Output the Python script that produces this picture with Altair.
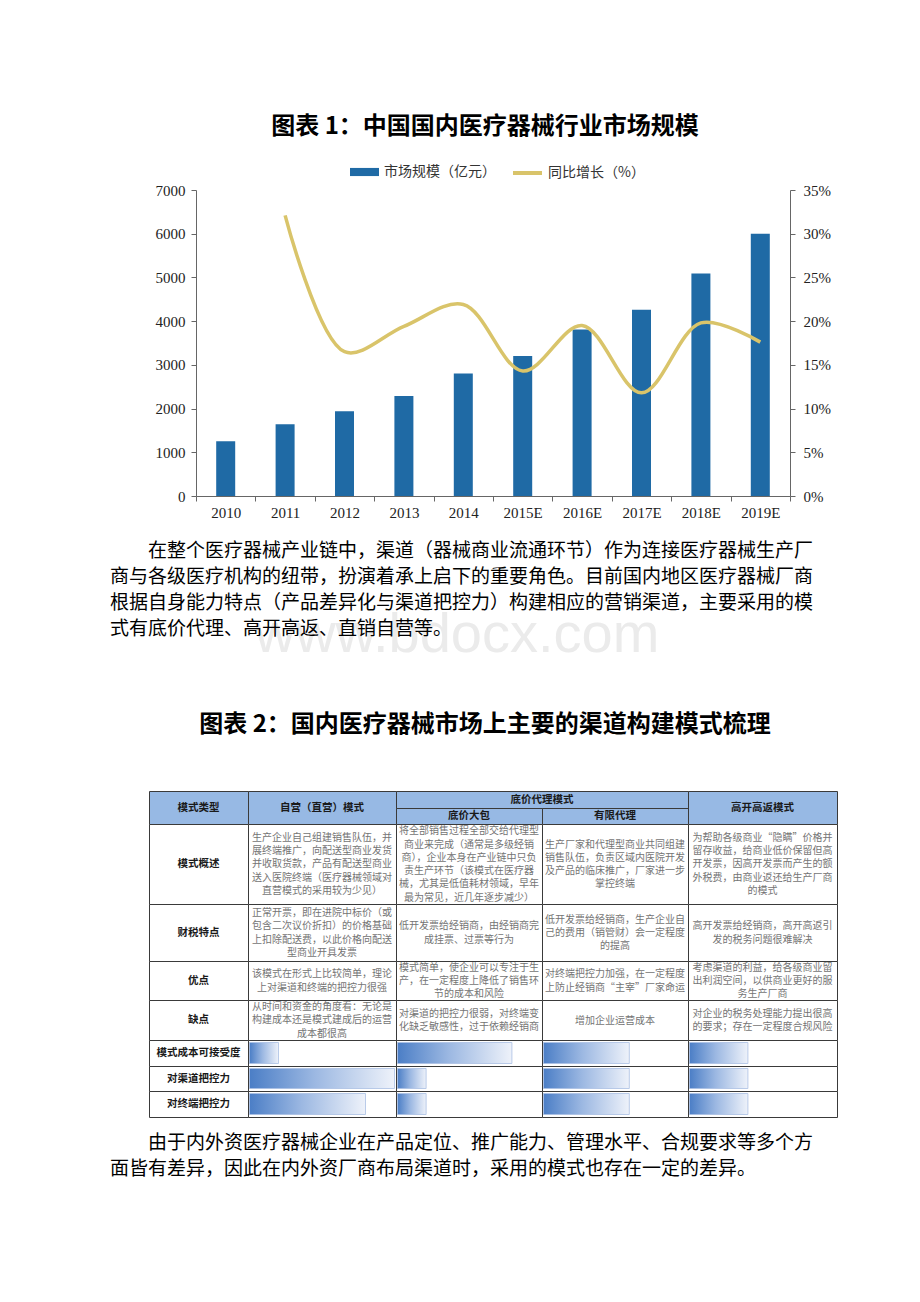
import altair as alt
import pandas as pd

# ---------------- data ----------------
years = ["2010", "2011", "2012", "2013", "2014", "2015E", "2016E", "2017E", "2018E", "2019E"]
market_size = [1255, 1640, 1940, 2290, 2800, 3200, 3810, 4260, 5090, 6000]
growth_pct = [None, 32.1, 16.5, 19.4, 21.9, 14.3, 19.5, 11.8, 19.8, 17.6]
left_ticks = [0, 1000, 2000, 3000, 4000, 5000, 6000, 7000]
right_ticks = [0, 0.05, 0.10, 0.15, 0.20, 0.25, 0.30, 0.35]

size_label = "市场规模（亿元）"
growth_label = "同比增长（%）"

title1 = "图表 1：中国国内医疗器械行业市场规模"
title2 = "图表 2：国内医疗器械市场上主要的渠道构建模式梳理"

para1 = [
    "在整个医疗器械产业链中，渠道（器械商业流通环节）作为连接医疗器械生产厂",
    "商与各级医疗机构的纽带，扮演着承上启下的重要角色。目前国内地区医疗器械厂商",
    "根据自身能力特点（产品差异化与渠道把控力）构建相应的营销渠道，主要采用的模",
    "式有底价代理、高开高返、直销自营等。",
]
para2 = [
    "由于内外资医疗器械企业在产品定位、推广能力、管理水平、合规要求等多个方",
    "面皆有差异，因此在内外资厂商布局渠道时，采用的模式也存在一定的差异。",
]
watermark = "www.bdocx.com"

head_first = "模式类型"
head_cols = ["自营（直营）模式", "底价大包", "有限代理", "高开高返模式"]
head_group = "底价代理模式"
row_labels = ["模式概述", "财税特点", "优点", "缺点", "模式成本可接受度", "对渠道把控力", "对终端把控力"]
cell_texts = [
    [
        "生产企业自己组建销售队伍，并\n展终端推广，向配送型商业发货\n并收取货款，产品有配送型商业\n送入医院终端（医疗器械领域对\n直营模式的采用较为少见）",
        "将全部销售过程全部交给代理型\n商业来完成（通常是多级经销\n商），企业本身在产业链中只负\n责生产环节（该模式在医疗器\n械，尤其是低值耗材领域，早年\n最为常见，近几年逐步减少）",
        "生产厂家和代理型商业共同组建\n销售队伍，负责区域内医院开发\n及产品的临床推广，厂家进一步\n掌控终端",
        "为帮助各级商业“隐瞒”价格并\n留存收益，给商业低价保留但高\n开发票，因高开发票而产生的额\n外税费，由商业返还给生产厂商\n的模式",
    ],
    [
        "正常开票，即在进院中标价（或\n包含二次议价折扣）的价格基础\n上扣除配送费，以此价格向配送\n型商业开具发票",
        "低开发票给经销商，由经销商完\n成挂票、过票等行为",
        "低开发票给经销商，生产企业自\n己的费用（销管财）会一定程度\n的提高",
        "高开发票给经销商，高开高返引\n发的税务问题很难解决",
    ],
    [
        "该模式在形式上比较简单，理论\n上对渠道和终端的把控力很强",
        "模式简单，使企业可以专注于生\n产，在一定程度上降低了销售环\n节的成本和风险",
        "对终端把控力加强，在一定程度\n上防止经销商“主宰”厂家命运",
        "考虑渠道的利益，给各级商业留\n出利润空间，以供商业更好的服\n务生产厂商",
    ],
    [
        "从时间和资金的角度看：无论是\n构建成本还是模式建成后的运营\n成本都很高",
        "对渠道的把控力很弱，对终端变\n化缺乏敏感性，过于依赖经销商",
        "增加企业运营成本",
        "对企业的税务处理能力提出很高\n的要求；存在一定程度合规风险",
    ],
]
# scores (1-5) shown as bar length, per row of the last three rows, per mode column
score_rows = [
    [1, 4, 3, 2],
    [5, 1, 3, 2],
    [4, 1, 3, 2],
]
score_max = 5

# ---------------- layout / style ----------------
W, H = 920, 1302
X0, X1, Y_TOP, Y_BOT = 196, 790, 190, 496
BLUE = "#1f6aa5"
GOLD = "#d9c46a"
CJK = "Noto Sans CJK SC"
SERIF = "Liberation Serif"
HEAD_FILL = "#97b9e4"
COL_X = [149, 248, 396, 542, 688, 837]
HEAD_Y = [791, 808, 824]
BODY_Y = [824, 904, 961, 1000, 1040, 1066, 1091, 1117]
LINE_H = 13.3


def pos(field):
    return alt.X(field + ":Q", scale=None, axis=None)


def posy(field):
    return alt.Y(field + ":Q", scale=None, axis=None)


# ---------------- main chart ----------------
df = pd.DataFrame({
    "year": years,
    "size": market_size,
    "growth": [g / 100 if g is not None else None for g in growth_pct],
    "s1": size_label,
    "s2": growth_label,
})


def xscale():
    return alt.Scale(type="band", domain=years, range=[X0, X1], paddingInner=0, paddingOuter=0)


bars = alt.Chart(df).mark_bar(width=19, color=BLUE).encode(
    x=alt.X("year:N", scale=xscale(), sort=years,
            axis=alt.Axis(title=None, orient="bottom", offset=-(H - Y_BOT), tickBand="extent",
                          labelAngle=0, labelFont=SERIF, labelFontSize=15, labelColor="#222",
                          domainColor="#666", tickColor="#666", tickSize=5, labelPadding=4)),
    y=alt.Y("size:Q", scale=alt.Scale(domain=[0, 7000], range=[Y_BOT, Y_TOP], nice=False),
            axis=alt.Axis(title=None, orient="left", offset=-X0, values=left_ticks, format="d",
                          grid=False, labelFont=SERIF, labelFontSize=15, labelColor="#222",
                          domainColor="#666", tickColor="#666", tickSize=5, labelPadding=6)),
    color=alt.Color("s1:N", scale=alt.Scale(domain=[size_label], range=[BLUE]),
                    legend=alt.Legend(title=None, orient="none", legendX=349, legendY=156.5,
                                      symbolType="M-1,-0.28L1,-0.28L1,0.28L-1,0.28Z", symbolSize=841,
                                      labelFont=CJK, labelFontSize=14, labelColor="#333", labelOffset=4)),
)

line = alt.Chart(df).transform_filter("isValid(datum.growth)").mark_line(
    interpolate="catmull-rom", strokeWidth=3.5).encode(
    x=alt.X("year:N", scale=xscale(), sort=years, bandPosition=0.5, axis=None),
    y=alt.Y("growth:Q", scale=alt.Scale(domain=[0, 0.35], range=[Y_BOT, Y_TOP], nice=False),
            axis=alt.Axis(title=None, orient="right", offset=-(W - X1), values=right_ticks, format=".0%",
                          grid=False, labelFont=SERIF, labelFontSize=15, labelColor="#222",
                          domainColor="#666", tickColor="#666", tickSize=5, labelPadding=8)),
    color=alt.Color("s2:N", scale=alt.Scale(domain=[growth_label], range=[GOLD]),
                    legend=alt.Legend(title=None, orient="none", legendX=511, legendY=156.5,
                                      symbolType="stroke", symbolStrokeWidth=4, symbolSize=841,
                                      labelFont=CJK, labelFontSize=14, labelColor="#333", labelOffset=4)),
)

# ---------------- page text ----------------
wm = alt.Chart(pd.DataFrame({"text": [watermark], "x": [457], "y": [652]})).mark_text(
    font="Liberation Sans", fontSize=56, color="#ebebeb", align="center", baseline="alphabetic"
).encode(x=pos("x"), y=posy("y"), text="text:N")

titles = alt.Chart(pd.DataFrame({"text": [title1, title2], "x": [485, 485], "y": [127, 725]})).mark_text(
    font=CJK, fontSize=24, fontWeight="bold", color="#000", align="center", baseline="middle"
).encode(x=pos("x"), y=posy("y"), text="text:N")

para_rows = []
for i, t in enumerate(para1):
    para_rows.append({"text": t, "x": 148 if i == 0 else 110, "y": 551 + 26 * i})
for i, t in enumerate(para2):
    para_rows.append({"text": t, "x": 148 if i == 0 else 110, "y": 1143 + 26 * i})
paras = alt.Chart(pd.DataFrame(para_rows)).mark_text(
    font=CJK, fontSize=19, color="#000", align="left", baseline="middle"
).encode(x=pos("x"), y=posy("y"), text="text:N")

# ---------------- table ----------------
cells = []
heads = []
cells.append({"x1": COL_X[0], "x2": COL_X[1], "y1": HEAD_Y[0], "y2": HEAD_Y[2], "fill": HEAD_FILL})
heads.append({"text": head_first, "x": (COL_X[0] + COL_X[1]) / 2, "y": (HEAD_Y[0] + HEAD_Y[2]) / 2})
cells.append({"x1": COL_X[1], "x2": COL_X[2], "y1": HEAD_Y[0], "y2": HEAD_Y[2], "fill": HEAD_FILL})
heads.append({"text": head_cols[0], "x": (COL_X[1] + COL_X[2]) / 2, "y": (HEAD_Y[0] + HEAD_Y[2]) / 2})
cells.append({"x1": COL_X[2], "x2": COL_X[4], "y1": HEAD_Y[0], "y2": HEAD_Y[1], "fill": HEAD_FILL})
heads.append({"text": head_group, "x": (COL_X[2] + COL_X[4]) / 2, "y": (HEAD_Y[0] + HEAD_Y[1]) / 2})
for c in (2, 3):
    cells.append({"x1": COL_X[c], "x2": COL_X[c + 1], "y1": HEAD_Y[1], "y2": HEAD_Y[2], "fill": HEAD_FILL})
    heads.append({"text": head_cols[c - 1], "x": (COL_X[c] + COL_X[c + 1]) / 2, "y": (HEAD_Y[1] + HEAD_Y[2]) / 2})
cells.append({"x1": COL_X[4], "x2": COL_X[5], "y1": HEAD_Y[0], "y2": HEAD_Y[2], "fill": HEAD_FILL})
heads.append({"text": head_cols[3], "x": (COL_X[4] + COL_X[5]) / 2, "y": (HEAD_Y[0] + HEAD_Y[2]) / 2})

labels = []
body = []
gbars = []
for r, lab in enumerate(row_labels):
    y1, y2 = BODY_Y[r], BODY_Y[r + 1]
    labels.append({"text": lab, "x": (COL_X[0] + COL_X[1]) / 2, "y": (y1 + y2) / 2})
    for c in range(5):
        cells.append({"x1": COL_X[c], "x2": COL_X[c + 1], "y1": y1, "y2": y2, "fill": "#ffffff"})
    if r < len(cell_texts):
        for c, t in enumerate(cell_texts[r]):
            n = t.count("\n") + 1
            body.append({"text": t, "x": (COL_X[c + 1] + COL_X[c + 2]) / 2,
                         "y": (y1 + y2) / 2 + 0.5 - (n - 1) * LINE_H / 2})
    else:
        sc = score_rows[r - len(cell_texts)]
        for c, s in enumerate(sc):
            left = COL_X[c + 1] + 1.5
            wcol = COL_X[c + 2] - COL_X[c + 1] - 3
            gbars.append({"x1": left, "x2": left + wcol * s / score_max, "y1": y1 + 2.5, "y2": y2 - 2.5})

for d in cells:
    for k in ("x1", "x2", "y1", "y2"):
        d[k] = d[k] + 0.5

cell_layer = alt.Chart(pd.DataFrame(cells)).mark_rect(stroke="#3a3a3a", strokeWidth=1).encode(
    x=pos("x1"), x2="x2:Q", y=posy("y1"), y2="y2:Q", color=alt.Color("fill:N", scale=None))

grad = alt.Gradient(gradient="linear",
                    stops=[alt.GradientStop(color="#4b7ec6", offset=0),
                           alt.GradientStop(color="#9cb8e2", offset=0.45),
                           alt.GradientStop(color="#eef2fa", offset=1)],
                    x1=0, x2=1, y1=0, y2=0)
bar_layer = alt.Chart(pd.DataFrame(gbars)).mark_rect(fill=grad, stroke="#a9bfe3", strokeWidth=0.8).encode(
    x=pos("x1"), x2="x2:Q", y=posy("y1"), y2="y2:Q")

head_text = alt.Chart(pd.DataFrame(heads)).mark_text(
    font=CJK, fontSize=10.5, fontWeight="bold", color="#1a1a1a", align="center", baseline="middle"
).encode(x=pos("x"), y=posy("y"), text="text:N")

label_text = alt.Chart(pd.DataFrame(labels)).mark_text(
    font=CJK, fontSize=10.5, fontWeight="bold", color="#1a1a1a", align="center", baseline="middle"
).encode(x=pos("x"), y=posy("y"), text="text:N")

body_text = alt.Chart(pd.DataFrame(body)).mark_text(
    font=CJK, fontSize=10, color="#747474", align="center", baseline="middle", lineBreak="\n", lineHeight=LINE_H
).encode(x=pos("x"), y=posy("y"), text="text:N")

chart = alt.layer(
    wm, titles, paras, bars, line, cell_layer, bar_layer, head_text, label_text, body_text
).resolve_scale(
    x="independent", y="independent", color="independent"
).properties(
    width=W, height=H, padding=0, autosize=alt.AutoSizeParams(type="none"), background="#ffffff"
).configure_view(strokeWidth=0)

chart.save("out.html", embed_options={"renderer": "svg", "actions": False})
